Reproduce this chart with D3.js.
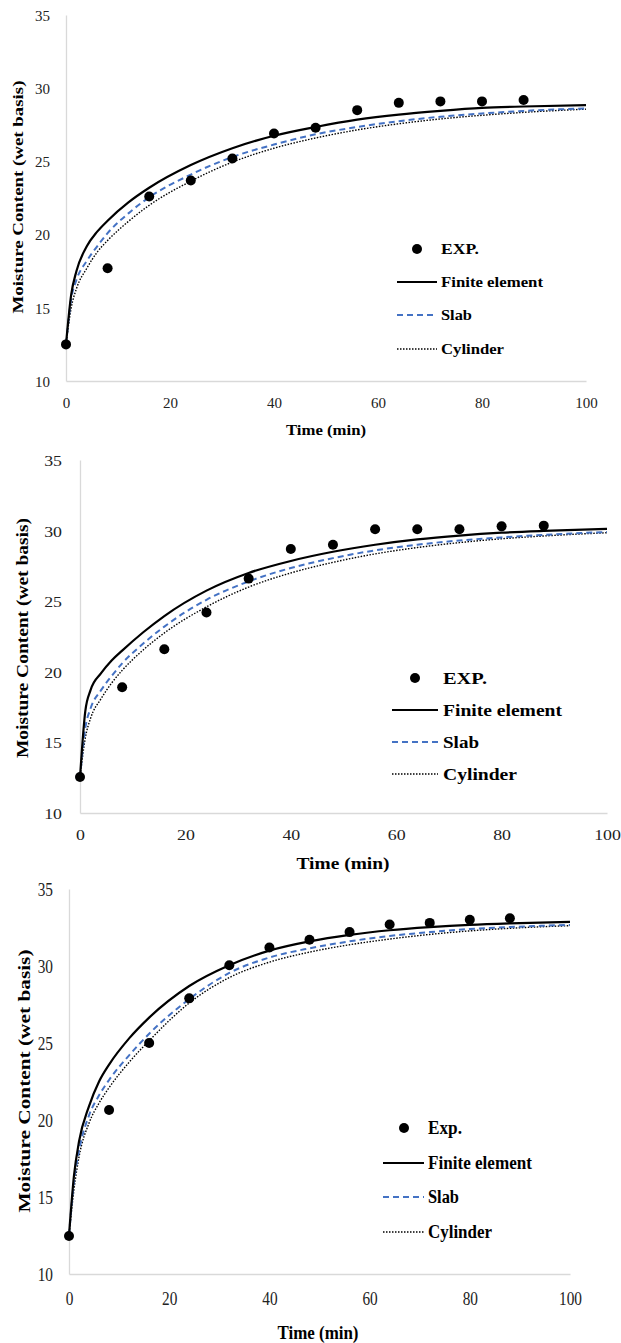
<!DOCTYPE html>
<html><head><meta charset="utf-8">
<script src="https://cdn.jsdelivr.net/npm/d3@7/dist/d3.min.js"></script>
<style>body{margin:0;background:#fff}svg{display:block}</style>
</head><body>
<svg id="c" width="621" height="1343"></svg>
<script>
// ---- data ----
const timeExp = [0, 8, 16, 24, 32, 40, 48, 56, 64, 72, 80, 88];
const timeModel = [0, 1, 2, 4, 6, 8, 12, 16, 24, 32, 40, 48, 56, 64, 72, 80, 88, 100];
const xTicks = [0, 20, 40, 60, 80, 100];
const yTicks = [10, 15, 20, 25, 30, 35];
const xTitle = "Time (min)";
const yTitle = "Moisture Content (wet basis)";

// Panel 1
const exp1  = [12.5, 17.7, 22.6, 23.7, 25.2, 26.9, 27.3, 28.5, 29.0, 29.1, 29.1, 29.2];
const fe1   = [12.5, 15.9, 17.5, 19.2, 20.2, 20.95, 22.2, 23.2, 24.75, 25.9, 26.75, 27.35, 27.85, 28.2, 28.45, 28.65, 28.75, 28.85];
const slab1 = [12.5, 15.6, 16.9, 18.2, 19.2, 20.1, 21.45, 22.55, 24.1, 25.3, 26.15, 26.85, 27.35, 27.75, 28.05, 28.27, 28.45, 28.62];
const cyl1  = [12.5, 15.0, 16.3, 17.7, 18.8, 19.6, 20.9, 22.0, 23.65, 24.95, 25.9, 26.6, 27.15, 27.57, 27.9, 28.15, 28.35, 28.57];
const legend1 = ["EXP.", "Finite element", "Slab", "Cylinder"];

// Panel 2
const exp2  = [12.55, 18.9, 21.6, 24.2, 26.6, 28.7, 29.0, 30.1, 30.1, 30.1, 30.3, 30.35];
const fe2   = [12.5, 17.2, 18.7, 19.9, 20.8, 21.5, 22.8, 23.95, 25.75, 27.0, 27.85, 28.5, 29.0, 29.38, 29.65, 29.85, 29.98, 30.12];
const slab2 = [12.5, 16.0, 17.4, 18.7, 19.7, 20.6, 22.0, 23.2, 25.1, 26.4, 27.35, 28.05, 28.6, 29.0, 29.3, 29.52, 29.7, 29.9];
const cyl2  = [12.5, 15.3, 16.7, 18.1, 19.2, 20.1, 21.55, 22.75, 24.6, 26.0, 27.0, 27.75, 28.35, 28.8, 29.15, 29.42, 29.62, 29.85];
const legend2 = ["EXP.", "Finite element", "Slab", "Cylinder"];

// Panel 3
const exp3  = [12.47, 20.65, 25.0, 27.9, 30.05, 31.2, 31.7, 32.2, 32.7, 32.8, 33.0, 33.1];
const fe3   = [12.5, 16.4, 18.6, 20.9, 22.5, 23.6, 25.3, 26.65, 28.7, 30.05, 31.0, 31.6, 32.02, 32.32, 32.52, 32.67, 32.77, 32.87];
const slab3 = [12.5, 16.0, 18.0, 20.3, 21.6, 22.6, 24.2, 25.6, 27.85, 29.55, 30.55, 31.15, 31.6, 31.95, 32.2, 32.4, 32.53, 32.67];
const cyl3  = [12.5, 15.5, 17.6, 19.8, 21.1, 22.1, 23.75, 25.15, 27.6, 29.25, 30.25, 30.9, 31.38, 31.75, 32.05, 32.28, 32.45, 32.62];
const legend3 = ["Exp.", "Finite element", "Slab", "Cylinder"];

// ---- layout / style ----
const FONT = "'Liberation Serif','Times New Roman',serif";
const panels = [
  { exp: exp1, fe: fe1, slab: slab1, cyl: cyl1, legend: legend1,
    x0: 66, x1: 586, yTop: 15, yBot: 381,
    tickFs: 15, tickSx: 1.0, yPad: 16, xLabOff: 22,
    xTitle: { x: 326, y: 430, fs: 14.5, len: 80 },
    yTitle: { x: 18, y: 197, fs: 14.5, len: 233 },
    leg: { dotX: 417, lineX0: 397, lineX1: 437, textX: 441, ys: [249, 282, 315, 349], fs: 15, lens: [38, 102, 31, 63] } },
  { exp: exp2, fe: fe2, slab: slab2, cyl: cyl2, legend: legend2,
    x0: 80, x1: 607, yTop: 460, yBot: 813,
    tickFs: 15.5, tickSx: 1.15, yPad: 18, xLabOff: 22,
    xTitle: { x: 343, y: 863, fs: 16.5, len: 93 },
    yTitle: { x: 22, y: 638, fs: 16, len: 240 },
    leg: { dotX: 415, lineX0: 392, lineX1: 438, textX: 443, ys: [678, 710, 742, 774], fs: 17, lens: [44, 119, 36, 74] } },
  { exp: exp3, fe: fe3, slab: slab3, cyl: cyl3, legend: legend3,
    x0: 69, x1: 570, yTop: 889, yBot: 1274,
    tickFs: 18, tickSx: 0.85, yPad: 16, xLabOff: 25,
    xTitle: { x: 318, y: 1333, fs: 18.5, len: 81 },
    yTitle: { x: 24, y: 1081, fs: 17, len: 263 },
    leg: { dotX: 404, lineX0: 383, lineX1: 424, textX: 428, ys: [1128, 1163, 1197, 1232], fs: 18, lens: [34, 104, 31, 64] } }
];

const seriesStyle = {
  fe:   { stroke: "#000", width: 2.2, dash: null },
  slab: { stroke: "#4472C4", width: 2, dash: "6,4" },
  cyl:  { stroke: "#000", width: 1.4, dash: "1.5,1.5" }
};

const svg = d3.select("#c");

panels.forEach(p => {
  const x = d3.scaleLinear().domain([0, 100]).range([p.x0, p.x1]);
  const y = d3.scaleLinear().domain([10, 35]).range([p.yBot, p.yTop]);
  const g = svg.append("g");

  // axes
  const ax = g.append("g").attr("transform", `translate(0,${p.yBot})`)
    .call(d3.axisBottom(x).tickValues(xTicks).tickSize(0).tickSizeOuter(0).tickFormat(d3.format("d")));
  const ay = g.append("g").attr("transform", `translate(${p.x0},0)`)
    .call(d3.axisLeft(y).tickValues(yTicks).tickSize(0).tickSizeOuter(0).tickFormat(d3.format("d")));
  [ax, ay].forEach(a => {
    a.select(".domain").attr("stroke", "#d9d9d9").attr("stroke-width", 1.3);
    a.selectAll("text").attr("font-family", FONT).attr("font-size", p.tickFs).attr("fill", "#222");
  });
  ax.selectAll(".tick text").attr("y", 0).attr("dy", "0.35em")
    .attr("transform", `translate(0,${p.xLabOff}) scale(${p.tickSx},1)`);
  ay.selectAll(".tick text").attr("x", 0).attr("dy", "0.35em")
    .attr("transform", `translate(${-p.yPad},0) scale(${p.tickSx},1)`);

  // titles
  g.append("text").text(xTitle)
    .attr("x", p.xTitle.x).attr("y", p.xTitle.y).attr("dy", "0.35em")
    .attr("text-anchor", "middle").attr("font-family", FONT).attr("font-weight", "bold")
    .attr("font-size", p.xTitle.fs).attr("textLength", p.xTitle.len).attr("lengthAdjust", "spacingAndGlyphs");
  g.append("text").text(yTitle)
    .attr("transform", `translate(${p.yTitle.x},${p.yTitle.y}) rotate(-90)`).attr("dy", "0.35em")
    .attr("text-anchor", "middle").attr("font-family", FONT).attr("font-weight", "bold")
    .attr("font-size", p.yTitle.fs).attr("textLength", p.yTitle.len).attr("lengthAdjust", "spacingAndGlyphs");

  // model lines
  const line = d3.line().x((d, i) => x(timeModel[i])).y(d => y(d)).curve(d3.curveMonotoneX);
  ["cyl", "slab", "fe"].forEach(k => {
    const s = seriesStyle[k];
    g.append("path").datum(p[k]).attr("d", line)
      .attr("fill", "none").attr("stroke", s.stroke).attr("stroke-width", s.width)
      .attr("stroke-dasharray", s.dash);
  });

  // experimental points
  g.selectAll("circle.exp").data(p.exp).join("circle").attr("class", "exp")
    .attr("cx", (d, i) => x(timeExp[i])).attr("cy", d => y(d)).attr("r", 5).attr("fill", "#000");

  // legend
  const L = p.leg;
  g.append("circle").attr("cx", L.dotX).attr("cy", L.ys[0]).attr("r", 5).attr("fill", "#000");
  ["fe", "slab", "cyl"].forEach((k, i) => {
    const s = seriesStyle[k];
    g.append("line").attr("x1", L.lineX0).attr("x2", L.lineX1).attr("y1", L.ys[i + 1]).attr("y2", L.ys[i + 1])
      .attr("stroke", s.stroke).attr("stroke-width", s.width).attr("stroke-dasharray", s.dash);
  });
  p.legend.forEach((t, i) => {
    g.append("text").text(t).attr("x", L.textX).attr("y", L.ys[i]).attr("dy", "0.35em")
      .attr("font-family", FONT).attr("font-weight", "bold").attr("font-size", L.fs)
      .attr("textLength", L.lens[i]).attr("lengthAdjust", "spacingAndGlyphs");
  });
});
</script>
</body></html>
